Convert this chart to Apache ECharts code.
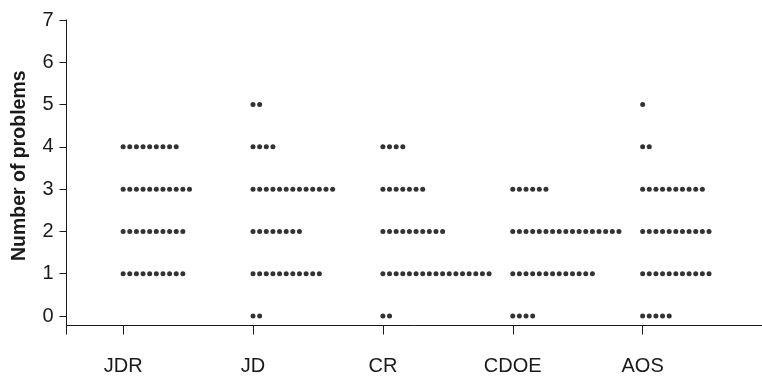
<!DOCTYPE html>
<html>
<head>
<meta charset="utf-8">
<script src="https://cdn.jsdelivr.net/npm/echarts@6/dist/echarts.min.js"></script>
<style>
html,body{margin:0;padding:0;background:#fff;}
#c{width:762px;height:377px;}
</style>
</head>
<body>
<div id="c"></div>
<script>
// Categories (x axis)
const categories = ['JDR', 'JD', 'CR', 'CDOE', 'AOS'];
// Problem counts (y values)
const problemValues = [0, 1, 2, 3, 4, 5];
// Number of dots at each y value (index = number of problems) per category
const countsJDR  = [0, 10, 10, 11, 9, 0];
const countsJD   = [2, 11, 8, 13, 4, 2];
const countsCR   = [2, 17, 10, 7, 4, 0];
const countsCDOE = [4, 13, 17, 6, 0, 0];
const countsAOS  = [5, 11, 11, 10, 2, 1];
// Y tick labels
const yTicks = [0, 1, 2, 3, 4, 5, 6, 7];

const allCounts = [countsJDR, countsJD, countsCR, countsCDOE, countsAOS];
const DOT_STEP = 0.0511; // horizontal spacing between stacked dots, in axis units

const points = [];
allCounts.forEach((counts, ci) => {
  counts.forEach((n, vi) => {
    for (let k = 0; k < n; k++) {
      points.push([ci + k * DOT_STEP, problemValues[vi]]);
    }
  });
});

const X_MIN = -0.436, X_MAX = 4.919;
const Y_MIN = -0.225, Y_MAX = 7;
const FONT = 'Liberation Sans, Arial, Helvetica, sans-serif';

const chart = echarts.init(document.getElementById('c'), null, {renderer: 'canvas'});
chart.setOption({
  animation: false,
  backgroundColor: '#ffffff',
  grid: {left: 66.5, right: 0, top: 20, bottom: 51.5, containLabel: false},
  xAxis: {
    type: 'value',
    min: X_MIN,
    max: X_MAX,
    splitLine: {show: false},
    axisLine: {show: true, onZero: false, lineStyle: {color: '#1a1a1a', width: 1}},
    axisTick: {show: true, length: 9, lineStyle: {color: '#1a1a1a', width: 1},
      customValues: [X_MIN, 0, 1, 2, 3, 4]},
    axisLabel: {
      customValues: [0, 1, 2, 3, 4],
      formatter: v => categories[Math.round(v)],
      color: '#1a1a1a', fontSize: 20, fontFamily: FONT, margin: 31
    }
  },
  yAxis: {
    type: 'value',
    min: Y_MIN,
    max: Y_MAX,
    name: 'Number of problems',
    nameLocation: 'middle',
    nameGap: 37,
    nameTextStyle: {color: '#1a1a1a', fontSize: 19.5, fontWeight: 'bold', fontFamily: FONT, padding: [0, 0, 0, 14]},
    splitLine: {show: false},
    axisLine: {show: true, onZero: false, lineStyle: {color: '#1a1a1a', width: 1}},
    axisTick: {show: true, length: 7, lineStyle: {color: '#1a1a1a', width: 1}, customValues: yTicks},
    axisLabel: {customValues: yTicks, color: '#1a1a1a', fontSize: 20, fontFamily: FONT, margin: 13}
  },
  series: [{
    type: 'scatter',
    data: points,
    symbol: 'circle',
    symbolSize: 5,
    itemStyle: {color: '#000'},
    silent: true
  }]
});
</script>
</body>
</html>
